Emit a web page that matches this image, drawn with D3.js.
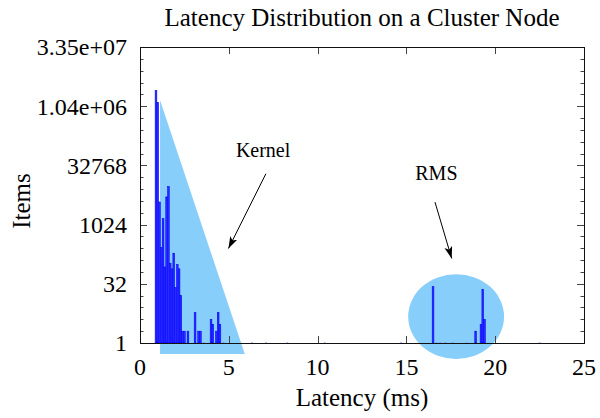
<!DOCTYPE html>
<html>
<head>
<meta charset="utf-8">
<script src="https://cdn.jsdelivr.net/npm/d3@7/dist/d3.min.js"></script>
<style>
  html, body { margin: 0; padding: 0; background: #fff; }
  svg { display: block; }
  text { font-family: "Liberation Serif", "Times New Roman", serif; fill: #000; }
</style>
</head>
<body>
<svg id="chart" width="600" height="418"></svg>
<script>
// ---- data ----
const latencyMs = [0.9, 1.0, 1.1, 1.2, 1.3, 1.4, 1.5, 1.6, 1.7, 1.8, 1.9, 2.0, 2.1, 2.2, 2.3, 2.4, 2.5, 2.7,
                   3.1, 3.3, 3.4, 3.6, 4.0, 4.1, 4.3, 4.4, 4.5, 4.7,
                   6.3, 7.1, 8.3, 10.4, 14.7,
                   16.5, 16.7, 16.9, 17.2, 17.6, 18.4, 18.9, 19.2, 19.3, 19.4, 22.5];
const items = [2650000, 1290000, 3850, 270, 1460, 86, 5180, 9500, 107, 77, 192, 26, 100, 77, 16, 2, 2, 2,
               6, 2, 2, 1, 4, 3, 2, 6, 3, 1,
               1, 1, 1, 1, 1,
               27, 1, 1, 1, 1, 1, 2, 3, 23, 4, 1];
const binWidth = 0.1;
const xTicks = [0, 5, 10, 15, 20, 25];
const yTickValues = [1, 32, 1024, 32768, 1048576, 33554432];
const yTickLabels = ["1", "32", "1024", "32768", "1.04e+06", "3.35e+07"];
const title = "Latency Distribution on a Cluster Node";
const xLabel = "Latency (ms)";
const yLabel = "Items";

// annotations (data coordinates)
const kernelTriangle = [[1.13, Math.pow(2, 20.5)], [1.13, Math.pow(2, -0.93)], [5.9, Math.pow(2, -0.93)]];
const rmsEllipse = { cx: 17.8, cy: Math.pow(2, 2.23), rx: 2.7, ryPow: 3.58 };
const annotations = [
  { text: "Kernel", x: 5.4, y: Math.pow(2, 16.3), from: [7.09, Math.pow(2, 14.3)], to: [4.98, Math.pow(2, 7.98)] },
  { text: "RMS", x: 15.5, y: Math.pow(2, 14.35), from: [16.61, Math.pow(2, 11.9)], to: [17.55, Math.pow(2, 7.14)] }
];

// ---- layout ----
const svg = d3.select("#chart");
const L = 140, R = 584, T = 47, B = 343;
const x = d3.scaleLinear().domain([0, 25]).range([L, R]);
const y = d3.scaleLog().base(2).domain([1, Math.pow(2, 25)]).range([B, T]);

svg.append("rect").attr("width", 600).attr("height", 418).attr("fill", "#fff");

// arrow marker
svg.append("defs").append("marker")
  .attr("id", "arrow").attr("markerUnits", "userSpaceOnUse")
  .attr("markerWidth", 14).attr("markerHeight", 10)
  .attr("refX", 12).attr("refY", 4).attr("orient", "auto")
  .append("path").attr("d", "M0,0 L12,4 L0,8 L3,4 Z").attr("fill", "#000");

// background shapes
const lightBlue = "#87cefa";
svg.append("path")
  .attr("d", d3.line().x(d => x(d[0])).y(d => y(d[1]))(kernelTriangle) + "Z")
  .attr("fill", lightBlue);

svg.append("ellipse")
  .attr("cx", x(rmsEllipse.cx))
  .attr("cy", y(rmsEllipse.cy))
  .attr("rx", x(rmsEllipse.cx + rmsEllipse.rx) - x(rmsEllipse.cx))
  .attr("ry", y(rmsEllipse.cy) - y(rmsEllipse.cy * Math.pow(2, rmsEllipse.ryPow)))
  .attr("fill", lightBlue);

// bars
const bars = latencyMs.map((l, i) => ({ l, v: items[i] }));
svg.append("g").selectAll("rect").data(bars).join("rect")
  .attr("x", d => x(d.l - binWidth / 2))
  .attr("width", d => x(d.l + binWidth / 2) - x(d.l - binWidth / 2))
  .attr("y", d => Math.min(y(d.v), B - 0.5))
  .attr("height", d => Math.max(B - y(d.v), 0.5))
  .attr("fill", d => d.v > 1 ? "#2a2aff" : "#6a6aff")
  .attr("stroke", d => d.v > 1 ? "#0000ff" : "none")
  .attr("stroke-width", 0.5);

// ticks
const tickColor = "#444";
const tg = svg.append("g").attr("stroke", tickColor).attr("stroke-width", 1);
xTicks.filter(t => t > 0 && t < 25).forEach(t => {
  const px = Math.round(x(t)) + 0.5;
  tg.append("line").attr("x1", px).attr("x2", px).attr("y1", B).attr("y2", B - 7);
  tg.append("line").attr("x1", px).attr("x2", px).attr("y1", T).attr("y2", T + 7);
});
d3.range(1, 25).forEach(p => {
  const py = Math.round(y(Math.pow(2, p))) + 0.5;
  const len = p % 5 === 0 ? 7 : 3.5;
  tg.append("line").attr("x1", L).attr("x2", L + len).attr("y1", py).attr("y2", py);
  tg.append("line").attr("x1", R).attr("x2", R - len).attr("y1", py).attr("y2", py);
});

// frame
svg.append("rect")
  .attr("x", L + 0.5).attr("y", T + 0.5)
  .attr("width", R - L).attr("height", B - T)
  .attr("fill", "none").attr("stroke", "#111").attr("stroke-width", 1);

// tick labels
const lab = svg.append("g").style("font-size", "24px");
xTicks.forEach(t => {
  lab.append("text").attr("x", x(t)).attr("y", 375)
    .attr("text-anchor", "middle").text(t);
});
yTickValues.forEach((v, i) => {
  lab.append("text").attr("x", 127).attr("y", y(v)).attr("dy", "0.35em")
    .attr("text-anchor", "end").text(yTickLabels[i]);
});

// axis titles
svg.append("text").attr("x", (L + R) / 2).attr("y", 406)
  .attr("text-anchor", "middle").style("font-size", "25px").text(xLabel);
svg.append("text").attr("transform", `translate(30,${(T + B) / 2 + 6}) rotate(-90)`)
  .attr("text-anchor", "middle").style("font-size", "25px").text(yLabel);
svg.append("text").attr("x", (L + R) / 2).attr("y", 26)
  .attr("text-anchor", "middle").style("font-size", "25px").text(title);

// annotations
annotations.forEach(a => {
  svg.append("text").attr("x", x(a.x)).attr("y", y(a.y)).attr("dy", "0.35em")
    .style("font-size", "20px").text(a.text);
  svg.append("line")
    .attr("x1", x(a.from[0])).attr("y1", y(a.from[1]))
    .attr("x2", x(a.to[0])).attr("y2", y(a.to[1]))
    .attr("stroke", "#000").attr("stroke-width", 1)
    .attr("marker-end", "url(#arrow)");
});
</script>
</body>
</html>
